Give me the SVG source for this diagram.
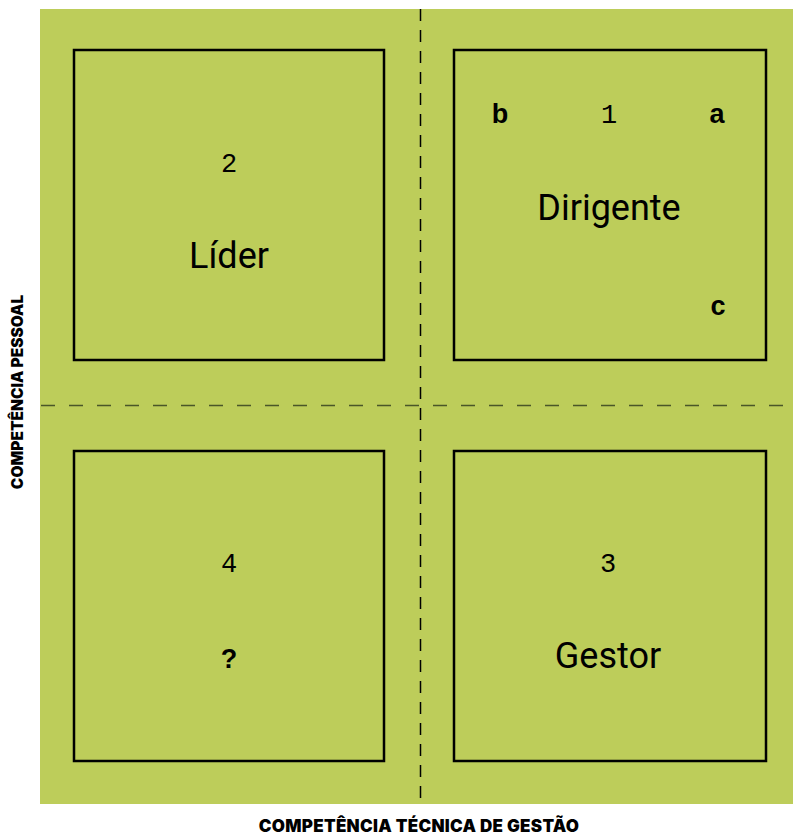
<svg xmlns="http://www.w3.org/2000/svg" width="793" height="835" viewBox="0 0 793 835">
<style>
.box{fill:none;stroke:#000;stroke-width:2.5}
.num{font-family:"Liberation Mono","DejaVu Sans Mono",monospace;font-size:27px;fill:#000;text-anchor:middle}
.name{font-family:Roboto,"Liberation Sans",sans-serif;font-size:36px;fill:#000;text-anchor:middle}
.let{font-family:"Liberation Sans",Arial,sans-serif;font-weight:bold;font-size:27px;fill:#000;text-anchor:middle}
.axis{font-family:Inter,"Liberation Sans",sans-serif;font-weight:900;font-size:17px;fill:#000;text-anchor:middle}
.vaxis{font-size:15.5px}
</style>
<rect x="40" y="9" width="753" height="795" fill="#bdcd5a"/>
<g id="connectors">
<line x1="40" y1="405.5" x2="793" y2="405.5" stroke="#4a5628" stroke-width="1.5" stroke-dasharray="14 14" stroke-dashoffset="-1"/>
<line x1="420.5" y1="9" x2="420.5" y2="804" stroke="#000" stroke-width="1.5" stroke-dasharray="12 9"/>
</g>
<g id="lider">
<rect class="box" x="74" y="50" width="310" height="310"/>
<text class="num" x="229" y="172">2</text>
<text class="name" x="229" y="268">Líder</text>
</g>
<g id="dirigente">
<rect class="box" x="454" y="50" width="312" height="310"/>
<text class="let" x="500" y="123">b</text>
<text class="num" x="609" y="123">1</text>
<text class="let" x="717" y="123">a</text>
<text class="name" x="609" y="220">Dirigente</text>
<text class="let" x="718" y="315">c</text>
</g>
<g id="q4">
<rect class="box" x="74" y="451" width="310" height="310"/>
<text class="num" x="229" y="572">4</text>
<text class="let" x="229" y="668">?</text>
</g>
<g id="gestor">
<rect class="box" x="454" y="451" width="312" height="310"/>
<text class="num" x="608" y="572">3</text>
<text class="name" x="608" y="668">Gestor</text>
</g>
<text class="axis" x="419" y="832" letter-spacing="0.3">COMPETÊNCIA TÉCNICA DE GESTÃO</text>
<text class="axis vaxis" transform="translate(23 392) rotate(-90)">COMPETÊNCIA PESSOAL</text>
</svg>
